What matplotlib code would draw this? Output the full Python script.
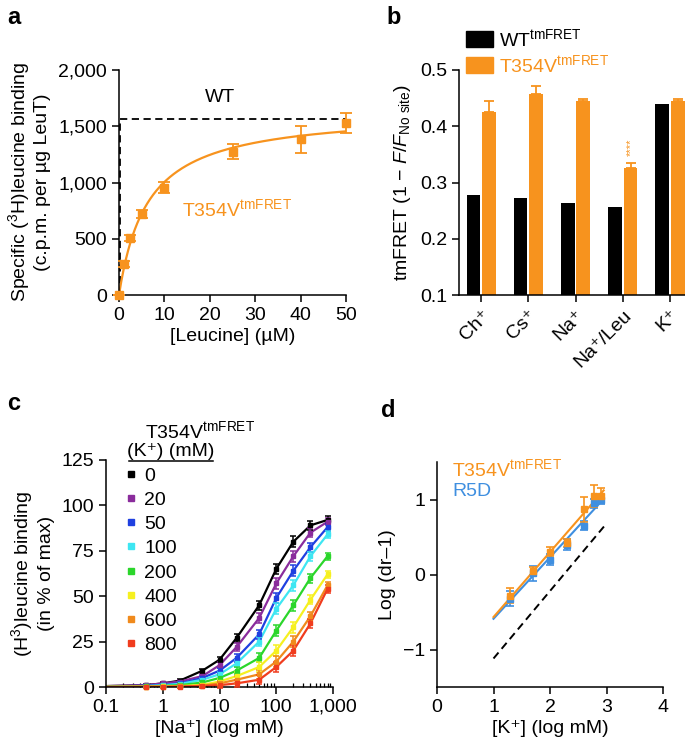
import numpy as np
import matplotlib
matplotlib.use("Agg")
import matplotlib.pyplot as plt
from matplotlib.patches import Patch
from matplotlib.lines import Line2D
from matplotlib.ticker import FuncFormatter, LogLocator, NullFormatter

plt.rcParams['font.family'] = ['Liberation Sans', 'DejaVu Sans']
plt.rcParams['mathtext.fontset'] = 'custom'
plt.rcParams['mathtext.rm'] = 'Liberation Sans'
plt.rcParams['mathtext.it'] = 'Liberation Sans:italic'
plt.rcParams['mathtext.bf'] = 'Liberation Sans:bold'
plt.rcParams['font.size'] = 14
plt.rcParams['axes.linewidth'] = 1.1

FS = 14
ORANGE = '#f7931e'
BLUE = '#3f8fe0'

# panel a: leucine saturation binding
leu_conc = [0, 1, 2.5, 5, 10, 25, 40, 50]
leu_bind = [0, 275, 505, 720, 955, 1275, 1385, 1530]
leu_err = [0, 25, 25, 35, 50, 70, 120, 90]
wt_x = [0.3, 0.3, 50]
wt_y = [0, 1565, 1565]

# panel b: tmFRET per condition
ions = ['Ch\u207a', 'Cs\u207a', 'Na\u207a', 'Na\u207a/Leu', 'K\u207a']
wt_fret = [0.278, 0.273, 0.264, 0.256, 0.440]
t354_fret = [0.425, 0.457, 0.445, 0.325, 0.445]
t354_err = [0.020, 0.015, 0.004, 0.010, 0.003]

# panel c: Na+ dependent binding at different K+
na_conc = [0.1, 0.5, 1, 2, 5, 10, 20, 50, 100, 200, 400, 800]
k_levels = ['0', '20', '50', '100', '200', '400', '600', '800']
k_colors = ['black', '#8a2c9c', '#1f40e0', '#3ee6f2', '#2bd62b', '#f6f020', '#f08a1c', '#f03c1e']
bind_0 = [0.5, 1, 2, 3.5, 9, 15, 27, 45, 65, 80, 89, 92]
bind_20 = [0.5, 1, 2, 3, 6, 12, 22, 38, 57, 72, 85, 91]
bind_50 = [0.3, 0.7, 1.2, 2, 5, 9, 16, 29, 49, 64, 77, 88]
bind_100 = [0.2, 0.5, 1, 1.7, 4, 7, 13, 25, 43, 56, 72, 84]
bind_200 = [0.1, 0.3, 0.6, 1, 2.5, 5, 9, 16, 31, 45, 60, 72]
bind_400 = [0.1, 0.2, 0.3, 0.5, 1.2, 3, 6, 11, 20, 33, 48, 62]
bind_600 = [0.1, 0.1, 0.2, 0.3, 0.8, 2, 4, 7, 14, 25, 39, 56]
bind_800 = [0.0, 0.1, 0.1, 0.2, 0.5, 1, 2, 4, 11, 20, 35, 54]
bind_all = [bind_0, bind_20, bind_50, bind_100, bind_200, bind_400, bind_600, bind_800]
bind_err = [0.5, 0.5, 0.5, 1, 1, 1.5, 2, 2.5, 3, 3, 2.5, 2]

# panel d: Schild plot
log_k = [1.30, 1.70, 2.00, 2.30, 2.60, 2.78, 2.90]
t354_dr = [-0.28, 0.05, 0.30, 0.42, 0.87, 1.05, 1.05]
t354_dr_err = [0.10, 0.05, 0.07, 0.05, 0.17, 0.15, 0.10]
r5d_dr = [-0.32, 0.02, 0.20, 0.40, 0.65, 0.95, 1.00]
r5d_dr_err = [0.10, 0.10, 0.07, 0.07, 0.06, 0.06, 0.06]
ref_x = [1.0, 3.0]
ref_y = [-1.12, 0.68]

W, H = 685, 747
fig = plt.figure(figsize=(W / 100, H / 100), dpi=100)


def box(l, t, r, b):
    return [l / W, 1 - b / H, (r - l) / W, (b - t) / H]


def style(ax):
    for s in ['top', 'right']:
        ax.spines[s].set_visible(False)
    ax.tick_params(direction='out', length=5, width=1.1, labelsize=FS)


comma = FuncFormatter(lambda v, p: f"{v:,.0f}")

# ---- a ----
ax_a = fig.add_axes(box(119, 70, 346, 295))
style(ax_a)
ax_a.plot(wt_x, wt_y, '--', color='black', lw=1.3, dashes=(4, 2.5))
# one-site fit y = Bmax*x/(Kd+x), grid search on Kd
xa = np.array(leu_conc, float)
ya = np.array(leu_bind, float)
best = None
for kd in np.linspace(0.5, 30, 600):
    f = xa / (kd + xa)
    bmax = (ya * f).sum() / (f * f).sum()
    sse = ((ya - bmax * f) ** 2).sum()
    if best is None or sse < best[0]:
        best = (sse, kd, bmax)
xfit = np.linspace(0, 50, 300)
ax_a.plot(xfit, best[2] * xfit / (best[1] + xfit), color=ORANGE, lw=1.6)
ax_a.errorbar(leu_conc, leu_bind, yerr=leu_err, fmt='s', color=ORANGE, ms=6,
              capsize=4, elinewidth=1.3, capthick=1.3, clip_on=False, zorder=5)
ax_a.set_xlim(0, 50)
ax_a.set_ylim(0, 2000)
ax_a.set_xticks([0, 10, 20, 30, 40, 50])
ax_a.set_yticks([0, 500, 1000, 1500, 2000])
ax_a.yaxis.set_major_formatter(comma)
ax_a.set_xlabel('[Leucine] (\u00b5M)', fontsize=FS, labelpad=3)
ax_a.set_ylabel('Specific ($^3$H)leucine binding\n(c.p.m. per \u00b5g LeuT)', fontsize=FS, labelpad=5)
ax_a.text(22.2, 1760, 'WT', ha='center', va='center', fontsize=FS)
ax_a.text(13.8, 760, 'T354V$^{\\mathrm{tmFRET}}$', color=ORANGE, ha='left', va='center', fontsize=FS)

# ---- b ----
ax_b = fig.add_axes(box(459, 70, 685, 295))
style(ax_b)
xb = np.arange(len(ions))
ax_b.bar(xb - 0.165, np.array(wt_fret) - 0.1, bottom=0.1, width=0.29, color='black')
ax_b.bar(xb + 0.165, np.array(t354_fret) - 0.1, bottom=0.1, width=0.29, color=ORANGE)
ax_b.errorbar(xb + 0.165, t354_fret, yerr=[np.zeros(len(xb)), t354_err], fmt='none',
              ecolor=ORANGE, capsize=3.5, elinewidth=1.3, capthick=1.3)
ax_b.text(xb[3] + 0.165, t354_fret[3] + t354_err[3] + 0.012, '****', rotation=90,
          color=ORANGE, ha='center', va='bottom', fontsize=8)
ax_b.set_xlim(-0.47, 4.32)
ax_b.set_ylim(0.1, 0.5)
ax_b.set_yticks([0.1, 0.2, 0.3, 0.4, 0.5])
ax_b.set_xticks(xb)
ax_b.set_xticklabels(ions, rotation=45, ha='right', rotation_mode='anchor', fontsize=FS)
ax_b.set_ylabel('tmFRET (1 $-$ $F/F_{\\mathrm{No\\ site}}$)', fontsize=FS, labelpad=5)
ax_b.legend(handles=[Patch(color='black'), Patch(color=ORANGE)],
            labels=['WT$^{\\mathrm{tmFRET}}$', 'T354V$^{\\mathrm{tmFRET}}$'],
            labelcolor=['black', ORANGE], loc='upper left',
            bbox_to_anchor=(466 / W, 1 - 28 / H), bbox_transform=fig.transFigure,
            frameon=False, handlelength=1.4, handleheight=0.9, handletextpad=0.3,
            labelspacing=0.2, borderpad=0, borderaxespad=0, fontsize=FS)

# ---- c ----
ax_c = fig.add_axes(box(106, 460, 333, 687))
style(ax_c)
ax_c.set_xscale('log')
handles = []
for vals, col, lab in zip(bind_all, k_colors, k_levels):
    ax_c.plot(na_conc, vals, '-', color=col, lw=1.6)
    ax_c.errorbar(na_conc[1:], vals[1:], yerr=bind_err[1:], fmt='s', color=col, ms=3.5,
                  capsize=2.5, elinewidth=1.1, capthick=1.1, clip_on=False, zorder=4)
    handles.append(Line2D([], [], marker='s', ls='none', color=col, ms=5, label=lab))
ax_c.set_xlim(0.1, 1000)
ax_c.set_ylim(0, 125)
ax_c.set_yticks([0, 25, 50, 75, 100, 125])
ax_c.set_xticks([0.1, 1, 10, 100, 1000])
ax_c.xaxis.set_major_formatter(FuncFormatter(lambda v, p: f"{v:,.0f}" if v >= 1 else f"{v:g}"))
ax_c.xaxis.set_minor_locator(LogLocator(base=10, subs=np.arange(2, 10)))
ax_c.xaxis.set_minor_formatter(NullFormatter())
ax_c.tick_params(axis='x', which='minor', direction='in', length=3, width=0.9)
ax_c.set_xlabel('[Na\u207a] (log mM)', fontsize=FS, labelpad=3)
ax_c.set_ylabel('(H$^3$)leucine binding\n(in % of max)', fontsize=FS, labelpad=5)
ax_c.legend(handles=handles, loc='upper left', bbox_to_anchor=(126 / W, 1 - 467 / H),
            bbox_transform=fig.transFigure, frameon=False, handlelength=0.5,
            handletextpad=0.45, labelspacing=0.34, borderpad=0, borderaxespad=0, fontsize=FS)
fig.text(200 / W, 1 - 431 / H, 'T354V$^{\\mathrm{tmFRET}}$', ha='center', va='center', fontsize=FS)
fig.text(171 / W, 1 - 452 / H, '(K\u207a) (mM)', ha='center', va='center', fontsize=FS)
fig.add_artist(Line2D([129 / W, 213 / W], [1 - 461 / H, 1 - 461 / H], color='black', lw=1.1))

# ---- d ----
ax_d = fig.add_axes(box(437, 462, 663, 687))
style(ax_d)
xk = np.array(log_k)
xl = np.linspace(1.0, 2.95, 50)
for vals, err, col in [(r5d_dr, r5d_dr_err, BLUE), (t354_dr, t354_dr_err, ORANGE)]:
    m, c = np.polyfit(xk, vals, 1)
    ax_d.plot(xl, m * xl + c, color=col, lw=1.5)
    ax_d.errorbar(log_k, vals, yerr=err, fmt='s', color=col, ms=4.5, capsize=3,
                  elinewidth=1.2, capthick=1.2, zorder=4)
ax_d.plot(ref_x, ref_y, '--', color='black', lw=1.4, dashes=(4, 2.5))
ax_d.set_xlim(0, 4)
ax_d.set_ylim(-1.5, 1.5)
ax_d.set_xticks([0, 1, 2, 3, 4])
ax_d.set_yticks([-1, 0, 1])
ax_d.yaxis.set_major_formatter(FuncFormatter(lambda v, p: f"{v:.0f}".replace('-', '\u2212')))
ax_d.set_xlabel('[K\u207a] (log mM)', fontsize=FS, labelpad=3)
ax_d.set_ylabel('Log (dr\u20131)', fontsize=FS, labelpad=5)
ax_d.text(0.27, 1.40, 'T354V$^{\\mathrm{tmFRET}}$', color=ORANGE, ha='left', va='center', fontsize=FS)
ax_d.text(0.27, 1.10, 'R5D', color=BLUE, ha='left', va='center', fontsize=FS)

# panel letters
for lab, x, y in [('a', 7, 17), ('b', 386, 17), ('c', 7, 404), ('d', 381, 410)]:
    fig.text(x / W, 1 - y / H, lab, fontsize=17, fontweight='bold', ha='left', va='center')

fig.savefig('out.png', dpi=100)
